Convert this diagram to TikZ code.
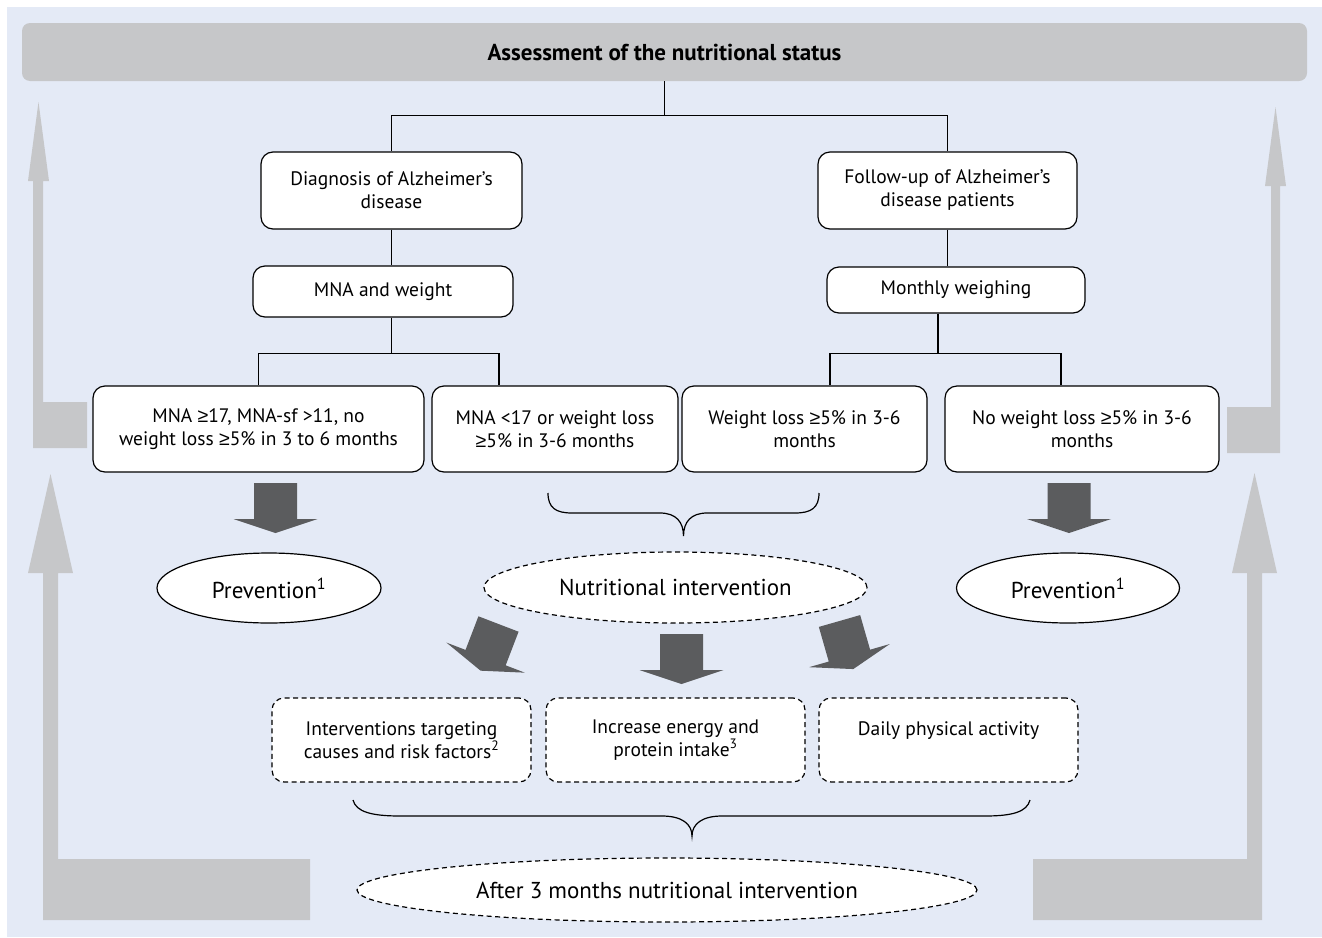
\documentclass[tikz,border=0pt]{standalone}
\usepackage{fontspec}
\setmainfont{PT Sans}
\newfontfamily\symfont{Liberation Sans}
\newcommand{\gsign}{{\symfont ≥}}
\usepackage{xcolor}
\usetikzlibrary{positioning, shapes, calc}
\definecolor{bgblue}{HTML}{E4EAF6}
\definecolor{bargray}{HTML}{C6C7C9}
\definecolor{arrowdark}{HTML}{5B5C5E}

\begin{document}
\begin{tikzpicture}[x=1pt, y=-1pt,
    box/.style={draw, fill=white, rounded corners=12pt, line width=1.2pt, align=center,
      font=\fontsize{19.5}{23}\selectfont, inner sep=0pt},
    dbox/.style={box, dash pattern=on 5pt off 3.5pt},
    oval/.style={ellipse, draw, fill=white, line width=1.2pt, inner sep=0pt,
      font=\fontsize{23}{27}\selectfont},
    doval/.style={oval, dash pattern=on 5pt off 3.5pt},
    link/.style={line width=1.2pt},
    fat arrow/.pic={\fill[arrowdark] (-21.5,0) -- (21.5,0) -- (21.5,36) -- (42,36)
      -- (0,50) -- (-42,36) -- (-21.5,36) -- cycle;}]
  \fill[bgblue] (7,7) rectangle (1322,937);
  \useasboundingbox (0,0) rectangle (1322,937);

  % gray return arrows
  \fill[bargray] (33,448) -- (87,448) -- (87,402) -- (43,402) -- (43,181) -- (49,181)
    -- (38.5,102) -- (28,181) -- (33,181) -- cycle;
  \fill[bargray] (1280,453) -- (1227,453) -- (1227,407) -- (1271,407) -- (1271,186)
    -- (1265,186) -- (1275.5,107) -- (1286,186) -- (1280,186) -- cycle;
  \fill[bargray] (43,920) -- (310,920) -- (310,859) -- (58,859) -- (58,573) -- (73,573)
    -- (50.5,474) -- (28,573) -- (43,573) -- cycle;
  \fill[bargray] (1262,920) -- (1033,920) -- (1033,859) -- (1247,859) -- (1247,573)
    -- (1232,573) -- (1254.5,473) -- (1277,573) -- (1262,573) -- cycle;

  \node[fill=bargray, rounded corners=8pt, minimum width=1285pt, minimum height=58pt,
    font=\bfseries\fontsize{23}{27}\selectfont] (head) at (664.5,52)
    {Assessment of the nutritional status};

  \node[box, minimum width=261pt, minimum height=77pt] (diag) at (391.5,190.5)
    {Diagnosis of Alzheimer’s\\disease};
  \node[box, minimum width=259pt, minimum height=77pt] (follow) at (947.5,190.5)
    {Follow-up of Alzheimer’s\\disease patients};
  \node[box, minimum width=260pt, minimum height=51pt] (mna) at (383,291.5) {MNA and weight};
  \node[box, minimum width=258pt, minimum height=46pt] (monthly) at (956,290) {Monthly weighing};

  \node[box, minimum width=331pt, minimum height=86pt] (c1) at (258.5,429)
    {MNA \gsign17, MNA-sf >11, no\\weight loss \gsign5\% in 3 to 6 months};
  \node[box, minimum width=246pt, minimum height=86pt] (c2) at (555,429)
    {MNA <17 or weight loss\\\gsign5\% in 3-6 months};
  \node[box, minimum width=245pt, minimum height=86pt] (c3) at (804.5,429)
    {Weight loss \gsign5\% in 3-6\\months};
  \node[box, minimum width=274pt, minimum height=86pt] (c4) at (1082,429)
    {No weight loss \gsign5\% in 3-6\\months};

  \node[oval, minimum width=224pt, minimum height=70pt] (prevl) at (269,588)
    {Prevention\textsuperscript{1}};
  \node[oval, minimum width=223pt, minimum height=70pt] (prevr) at (1068,588)
    {Prevention\textsuperscript{1}};
  \node[doval, minimum width=383pt, minimum height=71pt] (nutri) at (675.5,587.5)
    {Nutritional intervention};

  \node[dbox, minimum width=259pt, minimum height=84pt] (ia) at (401.5,740)
    {Interventions targeting\\causes and risk factors\textsuperscript{2}};
  \node[dbox, minimum width=259pt, minimum height=84pt] (ib) at (675.5,740)
    {Increase energy and\\protein intake\textsuperscript{3}};
  \node[dbox, minimum width=259pt, minimum height=84pt] (ic) at (948.5,740)
    {Daily physical activity\\\mbox{}};

  \node[doval, minimum width=620pt, minimum height=64pt] (after) at (667,890)
    {After 3 months nutritional intervention};

  % tree lines
  \draw[link] (head.south) -- ++(0,34) coordinate (fork0);
  \draw[link] (diag.north) |- (fork0) -| (follow.north);
  \draw[link] (diag.south) -- (diag.south |- mna.north);
  \draw[link] (diag.south |- mna.south) -- ++(0,36) coordinate (fork1);
  \draw[link] (c1.north) |- (fork1) -| ($(c2.north)+(-56,0)$);
  \draw[link] (follow.south) -- (follow.south |- monthly.north);
  \draw[link] ($(monthly.south)+(-18,0)$) -- ++(0,40) coordinate (fork2);
  \draw[link] ($(c3.north)+(25.5,0)$) |- (fork2) -| ($(c4.north)+(-21,0)$);

  % fat arrows
  \pic at (275.5,483) {fat arrow};
  \pic at (1069,483) {fat arrow};
  \pic at (681.5,634) {fat arrow};
  \pic[rotate=-21] at (498.5,624) {fat arrow};
  \pic[rotate=16] at (839.5,621) {fat arrow};

  % braces
  \draw[link] (548,493) .. controls (548,508) and (556,513) .. (572,513) -- (660,513)
    .. controls (676,513) and (683.5,522) .. (683.5,536)
    .. controls (683.5,522) and (691,513) .. (707,513) -- (795,513)
    .. controls (811,513) and (819,508) .. (819,493);
  \draw[link] (353,800) .. controls (356,812) and (372,816) .. (400,816) -- (662,816)
    .. controls (682,816) and (692,824) .. (692,836)
    .. controls (692,824) and (702,816) .. (722,816) -- (985,816)
    .. controls (1012,816) and (1027,812) .. (1030,800);
\end{tikzpicture}
\end{document}
